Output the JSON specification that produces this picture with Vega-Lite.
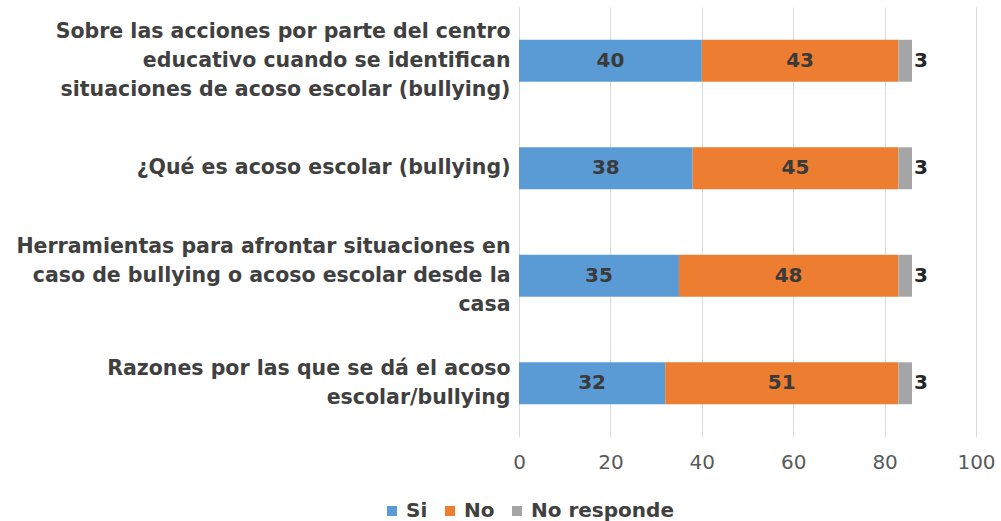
{
  "$schema": "https://vega.github.io/schema/vega-lite/v6.json",
  "autosize": "none",
  "width": 457,
  "height": 430,
  "padding": {"left": 519, "top": 7, "right": 25, "bottom": 84},
  "background": "white",
  "config": {"view": {"stroke": null}, "font": "DejaVu Sans"},
  "data": {"values": [
    {"question": "Sobre las acciones por parte del centro|educativo cuando se identifican|situaciones de acoso escolar (bullying)", "category": "Si", "orden": 1, "value": 40},
    {"question": "Sobre las acciones por parte del centro|educativo cuando se identifican|situaciones de acoso escolar (bullying)", "category": "No", "orden": 2, "value": 43},
    {"question": "Sobre las acciones por parte del centro|educativo cuando se identifican|situaciones de acoso escolar (bullying)", "category": "No responde", "orden": 3, "value": 3},
    {"question": "¿Qué es acoso escolar (bullying)", "category": "Si", "orden": 1, "value": 38},
    {"question": "¿Qué es acoso escolar (bullying)", "category": "No", "orden": 2, "value": 45},
    {"question": "¿Qué es acoso escolar (bullying)", "category": "No responde", "orden": 3, "value": 3},
    {"question": "Herramientas para afrontar situaciones en|caso de bullying o acoso escolar desde la|casa", "category": "Si", "orden": 1, "value": 35},
    {"question": "Herramientas para afrontar situaciones en|caso de bullying o acoso escolar desde la|casa", "category": "No", "orden": 2, "value": 48},
    {"question": "Herramientas para afrontar situaciones en|caso de bullying o acoso escolar desde la|casa", "category": "No responde", "orden": 3, "value": 3},
    {"question": "Razones por las que se dá el acoso|escolar/bullying", "category": "Si", "orden": 1, "value": 32},
    {"question": "Razones por las que se dá el acoso|escolar/bullying", "category": "No", "orden": 2, "value": 51},
    {"question": "Razones por las que se dá el acoso|escolar/bullying", "category": "No responde", "orden": 3, "value": 3}
  ]},
  "encoding": {
    "y": {
      "field": "question", "type": "nominal", "sort": null, "title": null,
      "scale": {"paddingInner": 0.61, "paddingOuter": 0.305},
      "axis": {
        "domain": false, "ticks": false, "grid": false,
        "labelExpr": "split(datum.label, '|')",
        "labelFont": "DejaVu Sans", "labelFontWeight": "bold", "labelFontSize": 20.5,
        "labelColor": "#404040", "labelLineHeight": 29, "labelLimit": 0, "labelPadding": 9,
        "labelOffset": {"expr": "-(length(split(datum.label, '|')) - 1) * 14.5"}
      }
    }
  },
  "layer": [
    {
      "mark": {"type": "bar"},
      "encoding": {
        "x": {
          "field": "value", "type": "quantitative", "stack": "zero", "title": null,
          "scale": {"domain": [0, 100], "nice": false},
          "axis": {
            "values": [0, 20, 40, 60, 80, 100], "domain": false, "ticks": false,
            "grid": true, "gridColor": "#d9d9d9", "gridWidth": 1, "labelFlush": false,
            "labelFont": "DejaVu Sans", "labelFontSize": 20, "labelColor": "#595959",
            "labelPadding": 15
          }
        },
        "order": {"field": "orden", "type": "quantitative"},
        "color": {
          "field": "category", "type": "nominal",
          "scale": {"domain": ["Si", "No", "No responde"], "range": ["#5B9BD5", "#ED7D31", "#A5A5A5"]},
          "legend": {
            "title": null, "orient": "none", "direction": "horizontal",
            "legendX": -137, "legendY": 494,
            "symbolType": "square", "symbolSize": 100, "symbolStrokeWidth": 0,
            "labelFont": "DejaVu Sans", "labelFontWeight": "bold", "labelFontSize": 20,
            "labelColor": "#404040", "labelOffset": 4, "columnPadding": 12
          }
        }
      }
    },
    {
      "transform": [
        {"stack": "value", "groupby": ["question"], "sort": [{"field": "orden"}], "as": ["x0", "x1"]},
        {"filter": "datum.category !== 'No responde'"},
        {"fold": ["x0", "x1"], "as": ["edge", "pos"]},
        {"aggregate": [{"op": "mean", "field": "pos", "as": "mid"}], "groupby": ["question", "category", "value"]}
      ],
      "mark": {"type": "text", "font": "DejaVu Sans", "fontWeight": "bold", "fontSize": 20, "color": "#3a3a3a", "baseline": "middle", "align": "center"},
      "encoding": {
        "x": {"field": "mid", "type": "quantitative"},
        "text": {"field": "value", "type": "quantitative"}
      }
    },
    {
      "transform": [
        {"stack": "value", "groupby": ["question"], "sort": [{"field": "orden"}], "as": ["x0", "x1"]},
        {"filter": "datum.category === 'No responde'"}
      ],
      "mark": {"type": "text", "font": "DejaVu Sans", "fontWeight": "bold", "fontSize": 20, "color": "#262626", "baseline": "middle", "align": "left", "dx": 2},
      "encoding": {
        "x": {"field": "x1", "type": "quantitative"},
        "text": {"field": "value", "type": "quantitative"}
      }
    }
  ]
}
